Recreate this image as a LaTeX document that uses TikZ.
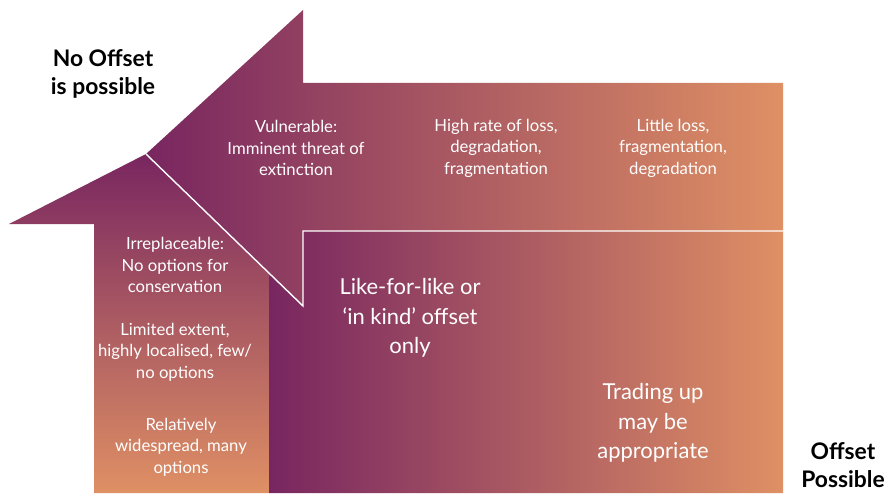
\documentclass[tikz,border=0pt]{standalone}
\usepackage{fontspec}
\setmainfont{Lato}
\usetikzlibrary{positioning}
\definecolor{plum}{RGB}{120,38,96}
\definecolor{mauve}{RGB}{166,104,112}
\definecolor{apricot}{RGB}{223,144,100}

\begin{document}
\begin{tikzpicture}[
                x=0.02cm, y=-0.02cm,
                band/.style={left color=plum, middle color=mauve, right color=apricot},
                stem/.style={top color=plum, middle color=mauve, bottom color=apricot},
                seam/.style={white, line width=0.8pt},
                note/.style={text=white, align=center, font=\fontsize{9.5}{12.2}\selectfont},
                bignote/.style={text=white, align=center, font=\fontsize{12.5}{16.7}\selectfont},
                heading/.style={text=black, align=center, font=\bfseries\fontsize{13}{15.9}\selectfont},
            ]
                \useasboundingbox (0,0) rectangle (888,493);

                % Corner points of the two arrows and the block
                \coordinate (apex) at (146,154);
                \coordinate (tipA) at (303,10);
                \coordinate (tipB) at (9,224);
                \coordinate (notch) at (303,306);
                \coordinate (join) at (269,272);

                % Draw the vertical arrow
                \shade[stem] (tipB) -- (apex) -- (join) -- (269,493) -- (94,493) -- (94,224) -- cycle;

                % Draw the lower block
                \shade[band] (join) -- (notch) -- (303,231) -- (783,231) -- (783,493) -- (269,493) -- cycle;

                % Draw the horizontal arrow
                \shade[band] (tipA) -- (303,83) -- (783,83) -- (783,231) -- (303,231) -- (notch) -- (apex) -- cycle;

                % White seam between arrow and block
                \draw[seam] (apex) -- (notch) -- (303,231) -- (783,231);

                % Labels along the horizontal arrow
                \foreach \name / \x / \txt in {vuln/296/{Vulnerable:\\Imminent threat of\\extinction},
                                               high/496/{High rate of loss,\\degradation,\\fragmentation},
                                               little/673/{Little loss,\\fragmentation,\\degradation}}
                    \node[note] (\name) at (\x,148) {\txt};

                % Labels along the vertical arrow
                \node[note] (irrep) at (175,265) {Irreplaceable:\\No options for\\conservation};
                \node[note] (limited) at (175,352) {Limited extent,\\highly localised, few/\\no options};
                \node[note] (wide) at (181,447) {Relatively\\widespread, many\\options};

                % Labels in the block
                \node[bignote] (like) at (410,318) {Like-for-like or\\`in kind' offset\\only};
                \node[bignote] (trade) at (653,423) {Trading up\\may be\\appropriate};

                % End labels
                \node[heading] (none) at (103,74) {No Offset\\is possible};
                \node[heading] (some) at (843,465) {Offset\\Possible};
            \end{tikzpicture}
\end{document}
